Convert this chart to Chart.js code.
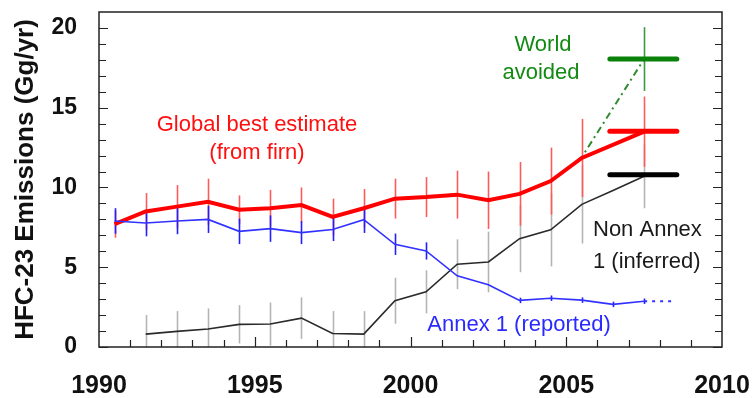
<!DOCTYPE html>
<html>
<head>
<meta charset="utf-8">
<script src="https://cdn.jsdelivr.net/npm/chart.js@4.4.1/dist/chart.umd.min.js"></script>
<style>
  html, body { margin: 0; padding: 0; background: #fff; }
  #wrap { width: 753px; height: 398px; position: relative; }
</style>
</head>
<body>
<div id="wrap"><canvas id="chart"></canvas></div>
<script>
// mid-year values (Gg/yr)
const years = [1990.5, 1991.5, 1992.5, 1993.5, 1994.5, 1995.5, 1996.5, 1997.5, 1998.5,
               1999.5, 2000.5, 2001.5, 2002.5, 2003.5, 2004.5, 2005.5, 2006.5, 2007.5];
const globalBest = [7.7, 8.5, 8.8, 9.1, 8.6, 8.7, 8.9, 8.15, 8.7, 9.3, 9.4, 9.55, 9.2, 9.6, 10.4, 11.85, null, 13.5];
const globalErr = [0.85, 1.15, 1.35, 1.45, 0.9, 1.15, 1.1, 1.15, 1.2, 1.25, 1.25, 1.5, 1.8, 2.0, 2.1, 2.45, null, 2.2];
const annex1 = [7.9, 7.77, 7.9, 8.0, 7.25, 7.42, 7.17, 7.37, 7.98, 6.44, 6.02, 4.46, 3.9, 2.92, 3.06, 2.94, 2.67, 2.87];
const annex1Err = [0.8, 0.83, 0.83, 0.85, 0.8, 0.83, 0.72, 0.73, 0.83, 0.67, 0.54, null, null, 0.17, 0.17, 0.17, 0.17, 0.17];
const nonAnnex1 = [null, 0.81, 0.98, 1.13, 1.42, 1.44, 1.81, 0.85, 0.81, 2.9, 3.46, 5.19, 5.33, 6.79, 7.35, 8.94, 9.81, 10.7];
const nonAnnex1Err = [null, 1.2, 1.27, 1.29, 1.2, 1.35, 1.3, 1.4, 1.44, 1.44, 1.35, 1.56, 1.9, 2.1, 2.3, 2.45, null, 2.0];

// "world avoided" projection and the reported extension
const worldYears = [2004.5, 2005.5, 2007.5];
const worldAvoided = [10.4, 11.9, 18.05];
const worldErr = [null, null, 2.0];
const annex1ExtYears = [2007.5, 2008.5];
const annex1Ext = [2.87, 2.87];

// thick markers around 2007.5
const markerYears = [2006.4, 2008.55];
const markerWorld = 18.05;
const markerGlobal = 13.52;
const markerNonAnnex = 10.8;

const xTickValues = [1990, 1995, 2000, 2005, 2010];
const yTickValues = [0, 5, 10, 15, 20];

const pts = (xs, ys) => xs.map((x, i) => ({ x, y: ys[i] })).filter(p => p.y != null);
const flat = (v) => markerYears.map(x => ({ x, y: v }));

// error bars drawn under the lines
const errSets = [
  { xs: years, ys: nonAnnex1, err: nonAnnex1Err, color: '#b4b4b4', w: 1.6 },
  { xs: years, ys: globalBest, err: globalErr, color: '#ff5a5a', w: 1.6 },
  { xs: years, ys: annex1, err: annex1Err, color: '#1f1fff', w: 1.6 },
  { xs: worldYears, ys: worldAvoided, err: worldErr, color: '#3c9a3c', w: 1.6 },
];

const notes = [
  { text: 'Global best estimate', x: 257, y: 125, color: '#ff1010', align: 'center' },
  { text: '(from firn)', x: 257, y: 153, color: '#ff1010', align: 'center' },
  { text: 'World', x: 543, y: 45, color: '#138a13', align: 'center' },
  { text: 'avoided', x: 541, y: 73, color: '#138a13', align: 'center' },
  { text: 'Non Annex', x: 593, y: 230, color: '#1a1a1a', align: 'left' },
  { text: '1 (inferred)', x: 593, y: 262, color: '#1a1a1a', align: 'left' },
  { text: 'Annex 1 (reported)', x: 519, y: 325, color: '#2a2aff', align: 'center' },
];

const framePlugin = {
  id: 'frame',
  beforeDatasetsDraw(chart) {
    const { ctx, chartArea: a, scales: { x, y } } = chart;
    ctx.save();
    ctx.beginPath();
    ctx.rect(a.left, a.top, a.right - a.left, a.bottom - a.top);
    ctx.clip();
    errSets.forEach(s => {
      ctx.strokeStyle = s.color;
      ctx.lineWidth = s.w;
      s.xs.forEach((yr, i) => {
        if (s.ys[i] == null || s.err[i] == null) return;
        const px = Math.round(x.getPixelForValue(yr)) + 0.5;
        ctx.beginPath();
        ctx.moveTo(px, y.getPixelForValue(s.ys[i] + s.err[i]));
        ctx.lineTo(px, y.getPixelForValue(s.ys[i] - s.err[i]));
        ctx.stroke();
      });
    });
    ctx.restore();
  },
  afterDraw(chart) {
    const { ctx, chartArea: a, scales: { x, y } } = chart;
    ctx.save();
    ctx.strokeStyle = '#222';
    ctx.lineWidth = 1.5;
    ctx.strokeRect(a.left, a.top, a.right - a.left, a.bottom - a.top);
    ctx.lineWidth = 1.2;
    ctx.beginPath();
    for (let v = 0; v <= 20; v++) {
      const py = Math.round(y.getPixelForValue(v)) + 0.5;
      const len = v % 5 === 0 ? 9 : 7;
      ctx.moveTo(a.left, py); ctx.lineTo(a.left + len, py);
      ctx.moveTo(a.right, py); ctx.lineTo(a.right - len, py);
    }
    for (let yr = 1991; yr < 2010; yr++) {
      const px = Math.round(x.getPixelForValue(yr)) + 0.5;
      const len = yr % 5 === 0 ? 10 : 7;
      ctx.moveTo(px, a.bottom); ctx.lineTo(px, a.bottom - len);
    }
    ctx.stroke();
    ctx.font = '22px "Liberation Sans", Arial, sans-serif';
    ctx.textBaseline = 'middle';
    notes.forEach(n => {
      ctx.fillStyle = n.color;
      ctx.textAlign = n.align;
      ctx.fillText(n.text, n.x, n.y);
    });
    ctx.restore();
  }
};

new Chart(document.getElementById('chart'), {
  type: 'line',
  data: {
    datasets: [
      { data: flat(markerWorld), borderColor: '#0a820a', borderWidth: 5, borderCapStyle: 'round', order: 0 },
      { data: flat(markerGlobal), borderColor: '#ff0000', borderWidth: 5, borderCapStyle: 'round', order: 0 },
      { data: flat(markerNonAnnex), borderColor: '#000', borderWidth: 5, borderCapStyle: 'round', order: 0 },
      { data: pts(years, annex1), borderColor: '#3232ff', borderWidth: 1.6, order: 1 },
      { data: pts(annex1ExtYears, annex1Ext), borderColor: '#3232ff', borderWidth: 2, borderDash: [3, 5], order: 1 },
      { data: pts(years, globalBest), borderColor: '#ff0000', borderWidth: 4, order: 2 },
      { data: pts(years, nonAnnex1), borderColor: '#2a2a2a', borderWidth: 1.6, order: 3 },
      { data: pts(worldYears, worldAvoided), borderColor: '#2e8b2e', borderWidth: 2, borderDash: [7, 4, 2, 4], order: 4 },
    ]
  },
  options: {
    responsive: true,
    maintainAspectRatio: false,
    animation: false,
    devicePixelRatio: 1,
    layout: { padding: { top: 12, right: 31, left: 0, bottom: 0 } },
    elements: { point: { radius: 0 }, line: { tension: 0, fill: false } },
    plugins: { legend: { display: false }, tooltip: { enabled: false } },
    scales: {
      x: {
        type: 'linear', min: 1990, max: 2010,
        grid: { display: false, drawTicks: false },
        border: { display: false },
        afterBuildTicks: s => { s.ticks = xTickValues.map(value => ({ value })); },
        afterFit: s => { s.height = 51; s.paddingLeft = 0; s.paddingRight = 0; },
        ticks: {
          padding: 24, color: '#111', maxRotation: 0, autoSkip: false,
          font: { family: '"Liberation Sans", Arial, sans-serif', size: 25, weight: 'bold' },
          callback: v => String(v)
        }
      },
      y: {
        min: 0, max: 21,
        grid: { display: false, drawTicks: false },
        border: { display: false },
        afterBuildTicks: s => { s.ticks = yTickValues.map(value => ({ value })); },
        afterFit: s => { s.width = 99; s.paddingTop = 0; s.paddingBottom = 0; },
        ticks: {
          padding: 22, color: '#111',
          font: { family: '"Liberation Sans", Arial, sans-serif', size: 23, weight: 'bold' },
          callback: v => String(v)
        },
        title: {
          display: true, text: 'HFC-23 Emissions (Gg/yr)', color: '#111',
          padding: { top: 10, bottom: 0 },
          font: { family: '"Liberation Sans", Arial, sans-serif', size: 26, weight: 'bold' }
        }
      }
    }
  },
  plugins: [framePlugin]
});
</script>
</body>
</html>
